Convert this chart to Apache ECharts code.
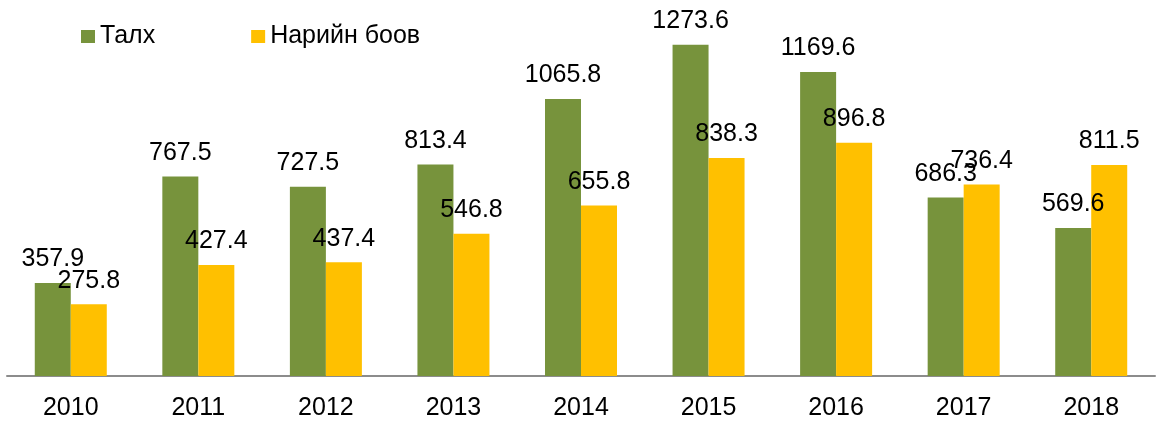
<!DOCTYPE html>
<html>
<head>
<meta charset="utf-8">
<script src="https://cdn.jsdelivr.net/npm/echarts@6/dist/echarts.min.js"></script>
<style>
  html, body { margin: 0; padding: 0; background: #fff; }
  #chart { width: 1171px; height: 422px; }
</style>
</head>
<body>
<div id="chart"></div>
<script>
var years = ["2010", "2011", "2012", "2013", "2014", "2015", "2016", "2017", "2018"];
var talkh = [357.9, 767.5, 727.5, 813.4, 1065.8, 1273.6, 1169.6, 686.3, 569.6];
var nariinBoov = [275.8, 427.4, 437.4, 546.8, 655.8, 838.3, 896.8, 736.4, 811.5];

var chart_obj = echarts.init(document.getElementById("chart"));

var fontName = "Liberation Sans, Arial, sans-serif";

var labelStyle = {
    show: true,
    position: "top",
    distance: 11,
    fontFamily: fontName,
    fontSize: 25,
    color: "#000"
};

var option = {
    animation: false,
    legend: {
        left: 76,
        top: 19,
        itemWidth: 14,
        itemHeight: 13,
        itemGap: 96,
        icon: "rect",
        textStyle: {
            fontFamily: fontName,
            fontSize: 25,
            color: "#000"
        },
        data: ["Талх", "Нарийн боов"]
    },
    grid: {
        left: 7,
        right: 16,
        top: 12,
        bottom: 46,
        containLabel: false
    },
    xAxis: {
        type: "category",
        data: years,
        axisLine: { lineStyle: { color: "#8c8c8c", width: 2 } },
        axisTick: { show: false },
        axisLabel: {
            margin: 20,
            fontFamily: fontName,
            fontSize: 25,
            color: "#000"
        }
    },
    yAxis: {
        type: "value",
        min: 0,
        max: 1400,
        show: false,
        splitLine: { show: false }
    },
    series: [
        {
            name: "Талх",
            type: "bar",
            data: talkh,
            barWidth: 36,
            barGap: "0%",
            itemStyle: { color: "#77933C" },
            label: labelStyle
        },
        {
            name: "Нарийн боов",
            type: "bar",
            data: nariinBoov,
            barWidth: 36,
            barGap: "0%",
            itemStyle: { color: "#FFC000" },
            label: labelStyle
        }
    ]
};
chart_obj.setOption(option);
</script>
</body>
</html>
